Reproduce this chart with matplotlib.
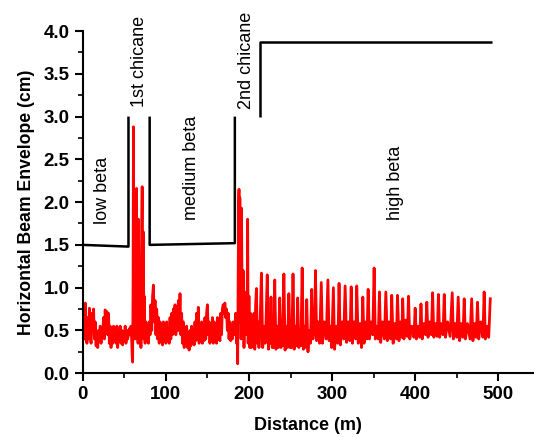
import matplotlib
matplotlib.use("Agg")
import matplotlib.pyplot as plt
from matplotlib.ticker import MultipleLocator

plt.rcParams['font.family'] = ['Liberation Sans', 'DejaVu Sans']

# beam envelope (distance in m, envelope in cm)
# low beta section
low_x = [0, 1, 2, 3, 4, 5, 6, 7, 8, 9, 10, 11, 12, 13, 14, 15, 16, 17, 18, 19,
         20, 21, 22, 23, 24, 25, 26, 27, 28, 29, 30, 31, 32, 33, 34, 35, 36, 37,
         38, 39, 40, 41, 42, 43, 44, 45, 46, 47, 48, 49, 50, 51, 52, 53, 54, 55,
         56, 57, 58]
low_y = [0.45, 0.6, 0.4, 0.82, 0.5, 0.35, 0.65, 0.4, 0.76, 0.45, 0.35, 0.7, 0.5,
         0.75, 0.4, 0.6, 0.32, 0.45, 0.3, 0.5, 0.4, 0.55, 0.35, 0.5, 0.45, 0.65,
         0.4, 0.74, 0.5, 0.72, 0.45, 0.7, 0.35, 0.55, 0.3, 0.5, 0.35, 0.55, 0.4,
         0.5, 0.35, 0.55, 0.3, 0.5, 0.38, 0.55, 0.35, 0.5, 0.33, 0.48, 0.4, 0.55,
         0.35, 0.5, 0.4, 0.45, 0.52, 0.45, 0.55]

# first chicane
ch1_x = [59, 59.5, 60, 60.5, 61, 61.5, 62, 63, 63.5, 64, 64.7, 65.2, 66, 66.5,
         67, 68, 69, 70, 71, 71.5, 72, 73, 73.5, 74, 75, 76, 77, 78, 79, 80]
ch1_y = [0.35, 0.2, 0.13, 0.9, 2.88, 0.6, 1.5, 0.4, 1.2, 2.1, 2.16, 0.5, 1.6,
         0.35, 1.8, 0.6, 1.2, 0.3, 1.7, 2.18, 0.5, 1.65, 0.4, 0.9, 0.35, 0.6,
         0.4, 0.55, 0.35, 0.6]

# medium beta section
med_x = list(range(81, 184))
med_y = [0.45, 0.8, 0.5, 0.9, 1.03, 0.6, 0.85, 0.45, 0.75, 0.4,
         0.65, 0.35, 0.6, 0.4, 0.55, 0.33, 0.6, 0.4, 0.55, 0.35,
         0.6, 0.38, 0.5, 0.35, 0.65, 0.4, 0.7, 0.45, 0.75, 0.5,
         0.8, 0.45, 0.75, 0.5, 0.85, 0.5, 0.93, 0.45, 0.7, 0.35,
         0.6, 0.3, 0.5, 0.35, 0.55, 0.3, 0.45, 0.27, 0.5, 0.32,
         0.55, 0.35, 0.5, 0.33, 0.6, 0.38, 0.7, 0.4, 0.77, 0.35,
         0.55, 0.4, 0.6, 0.35, 0.5, 0.38, 0.65, 0.4, 0.7, 0.8,
         0.45, 0.6, 0.35, 0.55, 0.4, 0.65, 0.35, 0.6, 0.4, 0.55,
         0.35, 0.65, 0.4, 0.6, 0.38, 0.7, 0.45, 0.75, 0.8, 0.7,
         0.82, 0.65, 0.75, 0.5, 0.7, 0.4, 0.6, 0.38, 0.55, 0.4,
         0.6, 0.45, 0.5]

# second chicane
ch2_x = [184, 185, 186, 186.4, 187, 187.5, 188, 188.5, 189, 189.5, 190, 190.5,
         191, 192, 193, 194, 195, 196, 197, 197.7, 198.4, 199, 200, 201, 202,
         203, 204, 205, 206, 207, 208, 209, 210, 211, 212, 213, 214]
ch2_y = [0.7, 0.35, 0.55, 0.11, 1.0, 1.9, 2.15, 0.6, 2.05, 0.8, 1.7, 0.4, 1.93,
         0.5, 1.2, 0.3, 0.9, 0.45, 0.95, 0.6, 1.8, 0.35, 0.9, 0.3, 0.7, 0.3,
         0.55, 0.35, 0.7, 0.28, 0.8, 0.99, 0.35, 0.6, 0.3, 0.45, 0.8]

# high beta section
high_x = [215, 216.5, 218, 219.5, 220.5, 222, 223.5, 224.5, 225.5,
          226.5, 228, 229, 230, 231, 232.5, 234, 235.5, 237, 238.5, 239.5, 240.5,
          242, 243.5, 245, 246.5, 248, 249.5, 250.5, 251.5, 253, 254.5, 256, 257.5,
          258.6, 260, 261.5, 262.5, 264, 265.5, 267, 268.5, 269.5, 271, 272.5, 274,
          275.5, 277, 278, 279, 280, 281.5, 283, 285, 287, 288.5, 290.5, 293,
          295, 296.5, 298, 299.5, 301.6, 303, 305, 307, 308.4, 310, 312, 314,
          315.7, 317.5, 319.5, 321.5, 323, 324.5, 326.5, 328.5, 329.7, 331.5, 333.5, 335.5,
          337, 338.5, 340.5, 342, 343.4, 345, 347, 349, 350.6, 352, 354, 355.5,
          357, 358.5, 360.5, 363, 364.7, 366.5, 368.5, 370.5, 371.8, 373.5, 375.5, 377.5,
          378.7, 380.5, 382.5, 384, 385, 386.5, 388.5, 390.5, 392, 393.5, 396, 398.5,
          400, 401.5, 403.5, 405.5, 407, 408.5, 410.5, 412.5, 414, 415.5, 417.5, 419.5,
          421, 422.5, 424.5, 426.5, 428, 429.5, 431.5, 433.5, 435, 436.5, 439, 442,
          444.6, 446, 448, 450, 451.8, 453.5, 455.5, 457.5, 459, 460.5, 463, 466,
          468, 469.5, 471.5, 473.5, 475, 476.5, 479, 481.5, 483, 484.5, 486.5, 488.5,
          490.4]
high_y = [1.17, 0.3, 0.55, 0.35, 0.6, 1.15, 0.28, 0.5, 0.35,
          0.89, 0.3, 0.5, 0.3, 1.09, 0.28, 0.55, 0.3, 0.88, 0.3, 0.5, 0.32,
          1.16, 0.27, 0.55, 0.3, 0.93, 0.3, 0.5, 0.3, 1.16, 0.28, 0.55, 0.32,
          0.88, 0.3, 0.5, 0.32, 1.23, 0.28, 0.55, 0.3, 0.86, 0.25, 0.5, 0.35,
          0.98, 0.4, 0.55, 0.45, 1.20, 0.38, 0.6, 0.35, 1.06, 0.35, 0.6, 0.4,
          1.09, 0.38, 0.55, 0.3, 1.00, 0.28, 0.55, 0.35, 1.05, 0.33, 0.6, 0.4,
          1.02, 0.36, 0.6, 0.38, 1.01, 0.35, 0.6, 0.4, 1.02, 0.35, 0.58, 0.3,
          0.89, 0.35, 0.6, 0.4, 0.98, 0.4, 0.6, 0.45, 1.23, 0.4, 0.55, 0.4,
          0.95, 0.36, 0.6, 0.4, 0.95, 0.38, 0.6, 0.4, 0.91, 0.35, 0.58, 0.4,
          0.91, 0.38, 0.6, 0.42, 0.87, 0.4, 0.62, 0.43, 0.90, 0.4, 0.55, 0.42,
          0.76, 0.4, 0.55, 0.42, 0.81, 0.4, 0.58, 0.45, 0.83, 0.42, 0.6, 0.45,
          0.94, 0.42, 0.58, 0.43, 0.92, 0.42, 0.58, 0.45, 0.92, 0.42, 0.6, 0.43,
          0.94, 0.4, 0.58, 0.42, 0.89, 0.38, 0.58, 0.42, 0.87, 0.4, 0.58, 0.4,
          0.87, 0.38, 0.58, 0.42, 0.83, 0.4, 0.6, 0.42, 0.95, 0.4, 0.55, 0.42,
          0.87]

# section outline (black step line)
low_line_x = [0, 55, 55]
low_line_y = [1.5, 1.48, 3.0]
med_line_x = [80.5, 80.5, 183, 183]
med_line_y = [3.0, 1.5, 1.52, 3.0]
high_line_x = [213, 213, 493]
high_line_y = [3.0, 3.87, 3.87]

labels = ["low beta", "1st chicane", "medium beta", "2nd chicane", "high beta"]
label_x = [24, 68.7, 131, 197.6, 376]
label_y = [2.14, 3.65, 2.4, 3.66, 2.22]

fig = plt.figure(figsize=(5.34, 4.37), dpi=100)
ax = fig.add_axes([0.155, 0.146, 0.845, 0.783])

dist = low_x + ch1_x + med_x + ch2_x + high_x
env = low_y + ch1_y + med_y + ch2_y + high_y
ax.plot(dist, env, color="#ff0000", lw=2.0)

for lx, ly in [(low_line_x, low_line_y), (med_line_x, med_line_y),
               (high_line_x, high_line_y)]:
    ax.plot(lx, ly, color="black", lw=1.8, solid_capstyle="butt")

for txt, tx, ty in zip(labels, label_x, label_y):
    ax.text(tx, ty, txt, rotation=90, ha="center", va="center",
            fontsize=13, clip_on=False)

ax.set_xlim(0, 543)
ax.set_ylim(0, 4.0)
ax.xaxis.set_major_locator(MultipleLocator(100))
ax.xaxis.set_minor_locator(MultipleLocator(50))
ax.yaxis.set_major_locator(MultipleLocator(0.5))
ax.yaxis.set_minor_locator(MultipleLocator(0.25))
ax.yaxis.set_major_formatter(matplotlib.ticker.FormatStrFormatter("%.1f"))

ax.spines["top"].set_visible(False)
ax.spines["right"].set_visible(False)
for s in ["left", "bottom"]:
    ax.spines[s].set_linewidth(1.5)
ax.tick_params(which="major", direction="out", length=6, width=1.5,
               labelsize=13.5)
ax.tick_params(which="minor", direction="out", length=3.5, width=1.2)
for lab in ax.get_xticklabels() + ax.get_yticklabels():
    lab.set_fontweight("bold")

ax.set_xlabel("Distance (m)", fontsize=13, fontweight="bold", labelpad=10)
ax.set_ylabel("Horizontal Beam Envelope (cm)", fontsize=12.7,
              fontweight="bold", labelpad=6)

fig.savefig("out.png", dpi=100)
